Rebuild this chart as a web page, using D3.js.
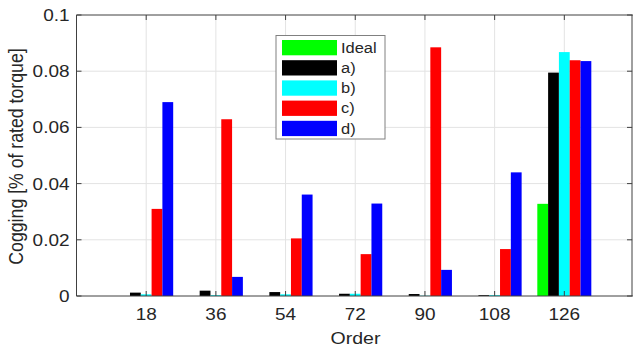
<!DOCTYPE html>
<html>
<head>
<meta charset="utf-8">
<script src="https://cdn.jsdelivr.net/npm/d3@7"></script>
<style>
  html, body { margin: 0; padding: 0; background: #fff; }
  svg { display: block; }
  text { font-family: "Liberation Sans", Arial, sans-serif; fill: #262626; }
</style>
</head>
<body>
<svg id="chart" width="633" height="349"></svg>
<script>
// Harmonic orders
const orders = [18, 36, 54, 72, 90, 108, 126];

// Cogging amplitude per design, % of rated torque
const seriesNames = ["Ideal", "a)", "b)", "c)", "d)"];
const seriesColors = ["#00ff00", "#000000", "#00ffff", "#ff0000", "#0000ff"];
const ideal = [0, 0, 0, 0, 0, 0, 0.0328];
const designA = [0.0012, 0.0019, 0.0014, 0.0008, 0.0007, 0.0003, 0.0795];
const designB = [0.0006, 0.0003, 0.0006, 0.0008, 0.0001, 0.0003, 0.0868];
const designC = [0.0310, 0.0629, 0.0205, 0.0149, 0.0885, 0.0167, 0.0839];
const designD = [0.0690, 0.0068, 0.0361, 0.0329, 0.0093, 0.0440, 0.0836];
const seriesValues = [ideal, designA, designB, designC, designD];

const yTicks = [0, 0.02, 0.04, 0.06, 0.08, 0.1];
const yTickLabels = ["0", "0.02", "0.04", "0.06", "0.08", "0.1"];

const svg = d3.select("#chart");
const margin = { left: 76.5, top: 15, right: 634, bottom: 296 };
const sx = 1.15; // horizontal text stretch

const x = d3.scaleLinear().domain([0, 144]).range([margin.left, margin.right]);
const y = d3.scaleLinear().domain([0, 0.1]).range([margin.bottom, margin.top]);

const gridColor = "#e3e3e3";
const axisColor = "#404040";

// grid
svg.append("g").selectAll("line.hg").data(yTicks.slice(1, -1)).join("line")
  .attr("x1", margin.left).attr("x2", margin.right)
  .attr("y1", d => y(d)).attr("y2", d => y(d))
  .attr("stroke", gridColor).attr("stroke-width", 1);
svg.append("g").selectAll("line.vg").data(orders).join("line")
  .attr("x1", d => x(d)).attr("x2", d => x(d))
  .attr("y1", margin.top).attr("y2", margin.bottom)
  .attr("stroke", gridColor).attr("stroke-width", 1);

// bars
const barW = 18 * 0.155;
const bars = svg.append("g");
seriesValues.forEach((vals, k) => {
  bars.selectAll(null).data(vals.map((v, i) => ({ o: orders[i], v })))
    .join("rect")
    .attr("x", d => x(d.o + (k - 2) * barW - barW / 2))
    .attr("width", x(barW) - x(0))
    .attr("y", d => y(d.v))
    .attr("height", d => y(0) - y(d.v))
    .attr("fill", seriesColors[k]);
});

// axes box
const box = svg.append("g").attr("fill", "none").attr("stroke", axisColor).attr("stroke-width", 1);
box.append("line").attr("x1", margin.left).attr("x2", margin.left).attr("y1", margin.top).attr("y2", margin.bottom);
box.append("line").attr("x1", margin.left).attr("x2", margin.right).attr("y1", margin.bottom).attr("y2", margin.bottom);
box.append("line").attr("x1", margin.left).attr("x2", margin.right).attr("y1", margin.top).attr("y2", margin.top);
box.append("line").attr("x1", 632).attr("x2", 632).attr("y1", margin.top).attr("y2", margin.bottom);

// inward ticks
const tl = 5;
yTicks.forEach(t => {
  box.append("line").attr("x1", margin.left).attr("x2", margin.left + tl).attr("y1", y(t)).attr("y2", y(t));
  box.append("line").attr("x1", 632).attr("x2", 632 - tl).attr("y1", y(t)).attr("y2", y(t));
});
orders.forEach(o => {
  box.append("line").attr("x1", x(o)).attr("x2", x(o)).attr("y1", margin.bottom).attr("y2", margin.bottom - tl);
  box.append("line").attr("x1", x(o)).attr("x2", x(o)).attr("y1", margin.top).attr("y2", margin.top + tl);
});

function stretchedText(px, py, str, size, anchor, rot) {
  return svg.append("text")
    .attr("transform", `translate(${px},${py}) scale(${sx},1)` + (rot ? ` rotate(${rot})` : ""))
    .attr("text-anchor", anchor)
    .attr("font-size", size)
    .text(str);
}

// tick labels
yTicks.forEach((t, i) => stretchedText(69.5, y(t) + 6, yTickLabels[i], 16.5, "end"));
orders.forEach(o => stretchedText(x(o), 320, String(o), 16.5, "middle"));

// axis titles
stretchedText(355.5, 343.5, "Order", 17, "middle");
stretchedText(22.7, 156.5, "Cogging [% of rated torque]", 17.7, "middle", -90);

// legend
const lg = svg.append("g");
lg.append("rect").attr("x", 276).attr("y", 35.5).attr("width", 109).attr("height", 103.5)
  .attr("fill", "#fff").attr("stroke", "#808080").attr("stroke-width", 1);
seriesNames.forEach((n, k) => {
  const ry = 40 + k * 20.2;
  lg.append("rect").attr("x", 282).attr("y", ry).attr("width", 55).attr("height", 15.3)
    .attr("fill", seriesColors[k]);
  lg.append("text")
    .attr("transform", `translate(341,${ry + 12.8}) scale(${sx},1)`)
    .attr("font-size", 14.3).text(n);
});
</script>
</body>
</html>
